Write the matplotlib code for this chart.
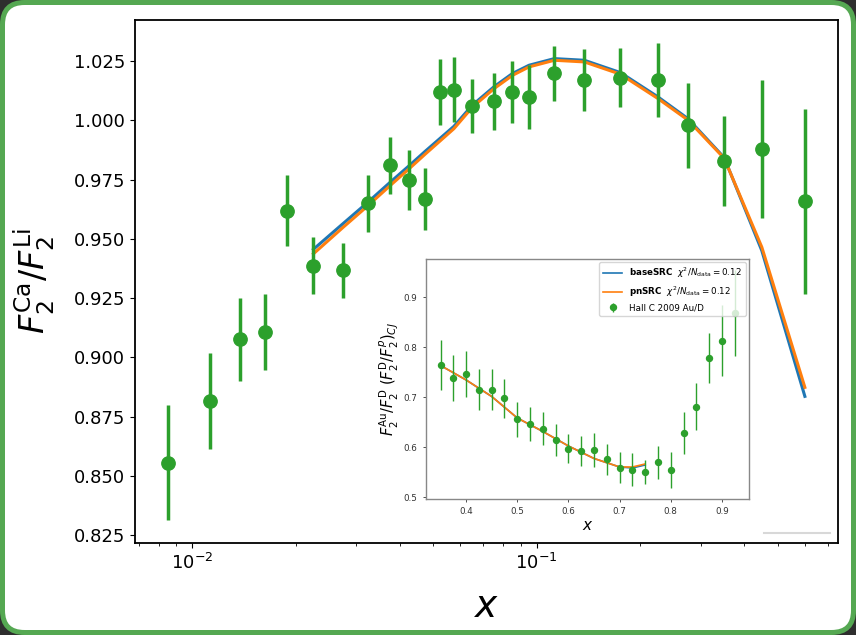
import matplotlib
matplotlib.use("Agg")
import matplotlib.pyplot as plt
from matplotlib.patches import FancyBboxPatch
from matplotlib.lines import Line2D

# main panel data: F2 Ca / F2 Li
x_data = [0.0085, 0.0113, 0.0138, 0.0163, 0.0188, 0.0225, 0.0275, 0.0325, 0.0375,
          0.0425, 0.0475, 0.0525, 0.0575, 0.065, 0.075, 0.085, 0.095, 0.1125,
          0.1375, 0.175, 0.225, 0.275, 0.35, 0.45, 0.6]
y_data = [0.8555, 0.8815, 0.9076, 0.9106, 0.9619, 0.9386, 0.9367, 0.965, 0.981,
          0.975, 0.9668, 1.012, 1.013, 1.006, 1.008, 1.012, 1.0099, 1.020,
          1.017, 1.0181, 1.017, 0.9979, 0.9829, 0.988, 0.9658]
y_err = [0.0244, 0.0204, 0.0175, 0.016, 0.015, 0.012, 0.0115, 0.012, 0.012,
         0.0127, 0.013, 0.014, 0.0137, 0.0115, 0.0122, 0.013, 0.0137, 0.0116,
         0.013, 0.0124, 0.0155, 0.018, 0.019, 0.029, 0.039]

x_model = [0.0225, 0.0275, 0.0325, 0.0375, 0.0425, 0.0475, 0.0525, 0.0575, 0.065,
           0.075, 0.085, 0.095, 0.1125, 0.1375, 0.175, 0.225, 0.275, 0.35, 0.45, 0.6]
base_src = [0.9456, 0.9566, 0.9657, 0.9738, 0.9807, 0.9870, 0.9925, 0.9975, 1.0064,
            1.0141, 1.0198, 1.0233, 1.0261, 1.0254, 1.0202, 1.0099, 1.0007, 0.9843,
            0.945, 0.8835]
pn_src = [0.9437, 0.9550, 0.9642, 0.9724, 0.9794, 0.9858, 0.9914, 0.9965, 1.0055,
          1.0133, 1.0190, 1.0226, 1.0254, 1.0247, 1.0195, 1.0092, 1.0001, 0.9840,
          0.9465, 0.8873]

# inset data: Hall C 2009 Au/D
xi_data = [0.35, 0.375, 0.4, 0.425, 0.45, 0.475, 0.5, 0.525, 0.55, 0.575, 0.6, 0.625,
           0.65, 0.675, 0.7, 0.725, 0.75, 0.775, 0.8, 0.825, 0.85, 0.875, 0.9, 0.925]
yi_data = [0.765, 0.739, 0.747, 0.715, 0.715, 0.698, 0.656, 0.647, 0.637, 0.615,
           0.597, 0.593, 0.594, 0.576, 0.559, 0.555, 0.551, 0.570, 0.554, 0.629,
           0.681, 0.778, 0.813, 0.869]
yi_err = [0.05, 0.046, 0.046, 0.041, 0.041, 0.039, 0.035, 0.034, 0.033, 0.032,
          0.029, 0.030, 0.034, 0.031, 0.031, 0.033, 0.024, 0.033, 0.036, 0.042,
          0.047, 0.050, 0.071, 0.086]
xi_model = [0.35, 0.4, 0.45, 0.5, 0.55, 0.6, 0.65, 0.7, 0.725, 0.75]
base_in = [0.764, 0.735, 0.702, 0.659, 0.632, 0.603, 0.578, 0.561, 0.559, 0.565]
pn_in = [0.764, 0.735, 0.702, 0.659, 0.632, 0.603, 0.578, 0.561, 0.561, 0.567]

fig = plt.figure(figsize=(8.56, 6.35), dpi=100, facecolor="#2e2e2e")

# rounded green frame of the screenshot
frame = FancyBboxPatch((0.025, 0.025), 8.51, 6.30, boxstyle="round,pad=0,rounding_size=0.22",
                       transform=fig.dpi_scale_trans, facecolor="white",
                       edgecolor="#55a852", linewidth=3.6, zorder=-10)
fig.patches.append(frame)

ax = fig.add_axes([0.1577, 0.1449, 0.8216, 0.8236])
ax.plot(x_model, base_src, color="#1f77b4", lw=2.2)
ax.plot(x_model, pn_src, color="#ff7f0e", lw=2.2)
ax.errorbar(x_data, y_data, yerr=y_err, fmt="o", color="#2ca02c", ms=9.6,
            elinewidth=2.5, capsize=0)
ax.set_xscale("log")
ax.set_xlim(0.00683, 0.75)
ax.set_ylim(0.8216, 1.0424)
ax.set_yticks([0.825, 0.85, 0.875, 0.9, 0.925, 0.95, 0.975, 1.0, 1.025])
ax.set_yticklabels(["0.825", "0.850", "0.875", "0.900", "0.925", "0.950",
                    "0.975", "1.000", "1.025"])
ax.tick_params(labelsize=13)
for s in ax.spines.values():
    s.set_linewidth(1.3)
ax.set_xlabel(r"$x$", fontsize=27)
ax.xaxis.set_label_coords(0.5, -0.088)
ax.set_ylabel(r"$F_2^{\rm Ca}/F_2^{\rm Li}$", fontsize=24)
ax.yaxis.set_label_coords(-0.112, 0.5)

# leftover faint legend line near bottom right
ax.add_line(Line2D([0.894, 0.988], [0.02, 0.02], transform=ax.transAxes,
                   color="#d8d8d8", lw=1.5))

# inset
axi = fig.add_axes([0.4973, 0.2142, 0.3777, 0.378])
axi.plot(xi_model, base_in, color="#1f77b4", lw=1.2, label=r"$\mathbf{baseSRC}$  $\chi^2/N_{\rm data} = 0.12$")
axi.plot(xi_model, pn_in, color="#ff7f0e", lw=1.2, label=r"$\mathbf{pnSRC}$  $\chi^2/N_{\rm data} = 0.12$")
axi.errorbar(xi_data, yi_data, yerr=yi_err, fmt="o", color="#2ca02c", ms=4.3,
             elinewidth=1.0, capsize=0, label="Hall C 2009 Au/D")
axi.set_xlim(0.321, 0.953)
axi.set_ylim(0.497, 0.977)
axi.set_xticks([0.4, 0.5, 0.6, 0.7, 0.8, 0.9])
axi.set_yticks([0.5, 0.6, 0.7, 0.8, 0.9])
axi.tick_params(labelsize=6.3, colors="#333333", length=2.5, width=0.6)
for s in axi.spines.values():
    s.set_color("#888888")
    s.set_linewidth(1.0)
axi.set_xlabel(r"$x$", fontsize=11, labelpad=1)
axi.set_ylabel(r"$F_2^{\rm Au}/F_2^{\rm D}\ (F_2^{\rm D}/F_2^{p})_{CJ}$", fontsize=10.5, labelpad=2)
axi.legend(loc="upper right", fontsize=6.3, borderaxespad=0.4, handlelength=2.2)

fig.savefig("out.png", dpi=100, facecolor=fig.get_facecolor())
